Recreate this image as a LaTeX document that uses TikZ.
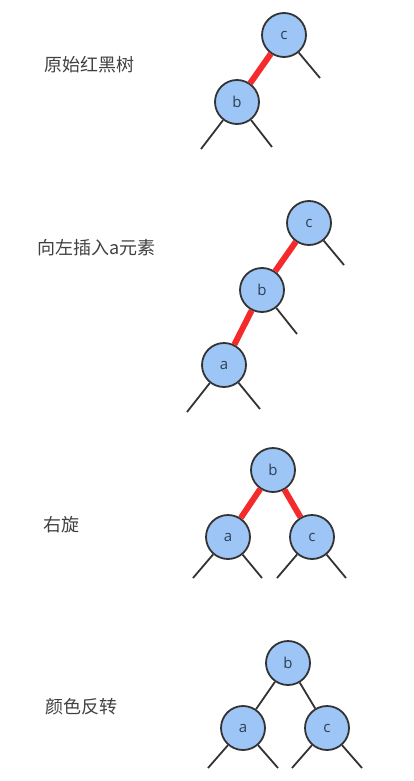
\documentclass[tikz,border=0pt]{standalone}
\usepackage{fontspec}
\setmainfont{Open Sans}
\newfontfamily\cjk{Noto Sans CJK SC}
\definecolor{nodefill}{HTML}{9DC6F7}
\definecolor{nodeline}{HTML}{333333}
\definecolor{redline}{HTML}{F52A2A}
\definecolor{labeltext}{HTML}{404040}
\definecolor{nodetext}{HTML}{2E3F55}
\begin{document}
\begin{tikzpicture}[x=1pt,y=-1pt,
  treenode/.style={circle,draw=nodeline,line width=1.8pt,fill=nodefill,minimum size=44pt,inner sep=0pt,font=\fontsize{15}{17}\selectfont,text=nodetext},
  blackedge/.style={draw=nodeline,line width=1.8pt},
  rededge/.style={draw=redline,line width=6pt},
  caption/.style={anchor=west,inner sep=0pt,font=\cjk\fontsize{18}{20}\selectfont,text=labeltext}]
\useasboundingbox (0,0) rectangle (413,781);
% captions
\node[caption] (t1) at (44,65) {原始红黑树};
\node[caption] (t2) at (37,248) {向左插入a元素};
\node[caption] (t3) at (43,525) {右旋};
\node[caption] (t4) at (45,707) {颜色反转};
% tree 1
\node[treenode] (c1) at (284,35) {c};
\node[treenode] (b1) at (237,102) {b};
\coordinate (c1r) at (320,78);
\coordinate (b1l) at (201,149);
\coordinate (b1r) at (272,147);
\draw[blackedge] (c1) -- (c1r);
\draw[blackedge] (b1) -- (b1l);
\draw[blackedge] (b1) -- (b1r);
\draw[rededge] (c1) -- (b1);
% tree 2
\node[treenode] (c2) at (309,223) {c};
\node[treenode] (b2) at (262,290) {b};
\node[treenode] (a2) at (224,365) {a};
\coordinate (c2r) at (344,265);
\coordinate (b2r) at (297,334);
\coordinate (a2l) at (187,412);
\coordinate (a2r) at (260,409);
\draw[blackedge] (c2) -- (c2r);
\draw[blackedge] (b2) -- (b2r);
\draw[blackedge] (a2) -- (a2l);
\draw[blackedge] (a2) -- (a2r);
\draw[rededge] (c2) -- (b2);
\draw[rededge] (b2) -- (a2);
% tree 3
\node[treenode] (b3) at (273,470) {b};
\node[treenode] (a3) at (228,537) {a};
\node[treenode] (c3) at (312,537) {c};
\coordinate (a3l) at (193,578);
\coordinate (a3r) at (262,578);
\coordinate (c3l) at (277,578);
\coordinate (c3r) at (346,578);
\draw[blackedge] (a3) -- (a3l);
\draw[blackedge] (a3) -- (a3r);
\draw[blackedge] (c3) -- (c3l);
\draw[blackedge] (c3) -- (c3r);
\draw[rededge] (b3) -- (a3);
\draw[rededge] (b3) -- (c3);
% tree 4
\node[treenode] (b4) at (288,663) {b};
\node[treenode] (a4) at (243,728) {a};
\node[treenode] (c4) at (327,728) {c};
\coordinate (a4l) at (208,768);
\coordinate (a4r) at (278,768);
\coordinate (c4l) at (292,768);
\coordinate (c4r) at (362,768);
\draw[blackedge] (a4) -- (a4l);
\draw[blackedge] (a4) -- (a4r);
\draw[blackedge] (c4) -- (c4l);
\draw[blackedge] (c4) -- (c4r);
\draw[blackedge] (b4) -- (a4);
\draw[blackedge] (b4) -- (c4);
\end{tikzpicture}
\end{document}
